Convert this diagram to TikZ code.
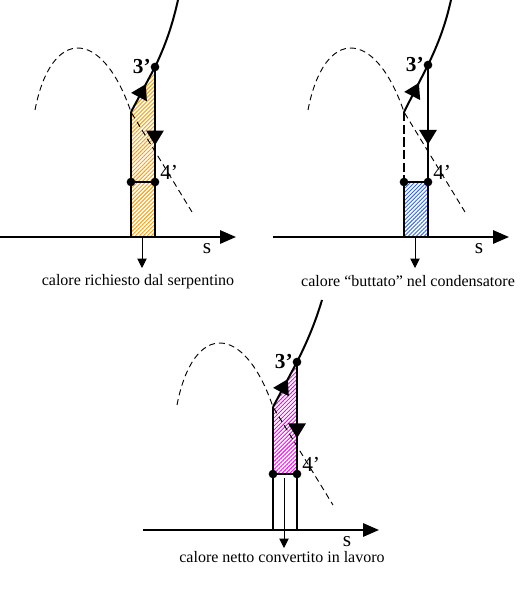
\documentclass[tikz,border=0pt]{standalone}
\usepackage{fontspec}
\setmainfont{Liberation Serif}
\usepackage{tikz}
\usetikzlibrary{
  arrows.meta,
  positioning,
  calc,
  patterns.meta,
  decorations.markings
}
\definecolor{tsHatchA}{HTML}{FF9900}
\definecolor{tsHatchB}{HTML}{3366FF}
\definecolor{tsHatchC}{HTML}{FF00FF}
\tikzset{
  tsaxis/.style={-{Triangle[length=12pt,width=10pt]}, line width=1.5pt},
  tsline/.style={line width=1.5pt},
  tsdome/.style={dash pattern=on 4.5pt off 3pt, line width=0.7pt},
  tsbreak/.style={dash pattern=on 7pt off 2.5pt, line width=1.5pt},
  tsdrop/.style={-{Triangle[length=7pt,width=7pt]}, line width=0.7pt},
  tsdot/.style={circle, fill=black, inner sep=0pt, minimum size=6.5pt},
  tsmid/.style={postaction={decorate},
    decoration={markings, mark=at position #1 with {\arrow{Triangle[length=11pt,width=13pt]}}}},
  tshatch/.style={pattern={Lines[angle=45,distance=2.1pt,line width=0.7pt]}, pattern color=#1},
  tspt/.style={font=\fontsize{16}{16}\selectfont, inner sep=0pt},
  tss/.style={font=\fontsize{16}{16}\selectfont, inner sep=0pt},
  tscap/.style={font=\fontsize{12}{14}\selectfont, inner sep=0pt}
}
\begin{document}
\begin{tikzpicture}[x=0.75pt, y=-0.75pt]
  \useasboundingbox (0,0) rectangle (530,597);

  % calore richiesto dal serpentino
  \begin{scope}[shift={(131,237)}]
    \coordinate (a-o) at (0,0);
    \coordinate (a-s0) at (-131,0);
    \coordinate (a-s1) at (105,0);
    \coordinate (a-r) at (24,0);
    \coordinate (a-k) at (0,-125);
    \coordinate (a-3) at (24,-170);
    \coordinate (a-4l) at (0,-55);
    \coordinate (a-4r) at (24,-55);
    \coordinate (a-top) at (47,-237);
    \coordinate (a-d0) at (-96,-127);
    \coordinate (a-d1) at (61,-25);
    \coordinate (a-q0) at (11,0);
    \coordinate (a-q1) at (11,31);
    \fill[tshatch=tsHatchA] (a-o) -- (a-k) -- (a-3) -- (a-r) -- cycle;
    \draw[tsdome] (a-d0) .. controls (-80,-210) and (-29,-210) .. (a-k) -- (a-d1);
    \draw[tsaxis] (a-s0) -- (a-s1);
    \draw[tsline] (a-3) .. controls (36,-195) and (42,-215) .. (a-top);
    \draw[tsline] (a-o) -- (a-k);
    \draw[tsline, tsmid=0.62] (a-k) -- (a-3);
    \draw[tsline, tsmid=0.68] (a-3) -- (a-4r);
    \draw[tsline] (a-4r) -- (a-r);
    \draw[tsline] (a-4l) -- (a-4r);
    \draw[tsdrop] (a-q0) -- (a-q1);
    \node[tsdot] (a-p3) at (a-3) {};
    \node[tsdot] (a-p4l) at (a-4l) {};
    \node[tsdot] (a-p4r) at (a-4r) {};
    \node[tspt, left=3pt of a-3] (a-l3) {\textbf{3’}};
    \node[tspt, anchor=west] (a-l4) at ($(a-4r)+(5,-10)$) {4’};
    \node[tss] (a-ls) at (76,12) {s};
    \node[tscap] (a-cap) at (7,45) {calore richiesto dal serpentino};
  \end{scope}

  % calore buttato nel condensatore
  \begin{scope}[shift={(404,237)}]
    \coordinate (b-o) at (0,0);
    \coordinate (b-s0) at (-131,0);
    \coordinate (b-s1) at (105,0);
    \coordinate (b-r) at (24,0);
    \coordinate (b-k) at (0,-125);
    \coordinate (b-3) at (24,-172);
    \coordinate (b-4l) at (0,-55);
    \coordinate (b-4r) at (24,-55);
    \coordinate (b-top) at (47,-237);
    \coordinate (b-d0) at (-96,-127);
    \coordinate (b-d1) at (61,-25);
    \coordinate (b-q0) at (11,0);
    \coordinate (b-q1) at (11,31);
    \fill[tshatch=tsHatchB] (b-o) -- (b-4l) -- (b-4r) -- (b-r) -- cycle;
    \draw[tsdome] (b-d0) .. controls (-80,-210) and (-29,-210) .. (b-k) -- (b-d1);
    \draw[tsaxis] (b-s0) -- (b-s1);
    \draw[tsline] (b-3) .. controls (36,-197) and (42,-215) .. (b-top);
    \draw[tsbreak] (b-k) -- (b-4l);
    \draw[tsline, tsmid=0.62] (b-k) -- (b-3);
    \draw[tsline, tsmid=0.68] (b-3) -- (b-4r);
    \draw[tsline] (b-o) -- (b-4l) -- (b-4r) -- (b-r);
    \draw[tsdrop] (b-q0) -- (b-q1);
    \node[tsdot] (b-p3) at (b-3) {};
    \node[tsdot] (b-p4l) at (b-4l) {};
    \node[tsdot] (b-p4r) at (b-4r) {};
    \node[tspt, left=3pt of b-3] (b-l3) {\textbf{3’}};
    \node[tspt, anchor=west] (b-l4) at ($(b-4r)+(5,-10)$) {4’};
    \node[tss] (b-ls) at (75,12) {s};
    \node[tscap] (b-cap) at (4,44) {calore “buttato” nel condensatore};
  \end{scope}

  % calore netto convertito in lavoro
  \begin{scope}[shift={(273,530)}]
    \coordinate (c-o) at (0,0);
    \coordinate (c-s0) at (-130,0);
    \coordinate (c-s1) at (106,0);
    \coordinate (c-r) at (24,0);
    \coordinate (c-k) at (0,-123);
    \coordinate (c-3) at (24,-168);
    \coordinate (c-4l) at (0,-56);
    \coordinate (c-4r) at (24,-56);
    \coordinate (c-top) at (49,-230);
    \coordinate (c-d0) at (-96,-125);
    \coordinate (c-d1) at (60,-25);
    \coordinate (c-q0) at (11,-52);
    \coordinate (c-q1) at (11,18);
    \fill[tshatch=tsHatchC] (c-4l) -- (c-k) -- (c-3) -- (c-4r) -- cycle;
    \draw[tsdome] (c-d0) .. controls (-80,-208) and (-29,-208) .. (c-k) -- (c-d1);
    \draw[tsaxis] (c-s0) -- (c-s1);
    \draw[tsline] (c-3) .. controls (36,-192) and (43,-210) .. (c-top);
    \draw[tsline] (c-o) -- (c-4l) -- (c-k);
    \draw[tsline, tsmid=0.62] (c-k) -- (c-3);
    \draw[tsline, tsmid=0.68] (c-3) -- (c-4r);
    \draw[tsline] (c-4r) -- (c-r);
    \draw[tsline] (c-4l) -- (c-4r);
    \draw[tsdrop] (c-q0) -- (c-q1);
    \node[tsdot] (c-p3) at (c-3) {};
    \node[tsdot] (c-p4l) at (c-4l) {};
    \node[tsdot] (c-p4r) at (c-4r) {};
    \node[tspt, left=3pt of c-3] (c-l3) {\textbf{3’}};
    \node[tspt, anchor=west] (c-l4) at ($(c-4r)+(5,-10)$) {4’};
    \node[tss] (c-ls) at (74,12) {s};
    \node[tscap] (c-cap) at (9,27) {calore netto convertito in lavoro};
  \end{scope}
\end{tikzpicture}
\end{document}
